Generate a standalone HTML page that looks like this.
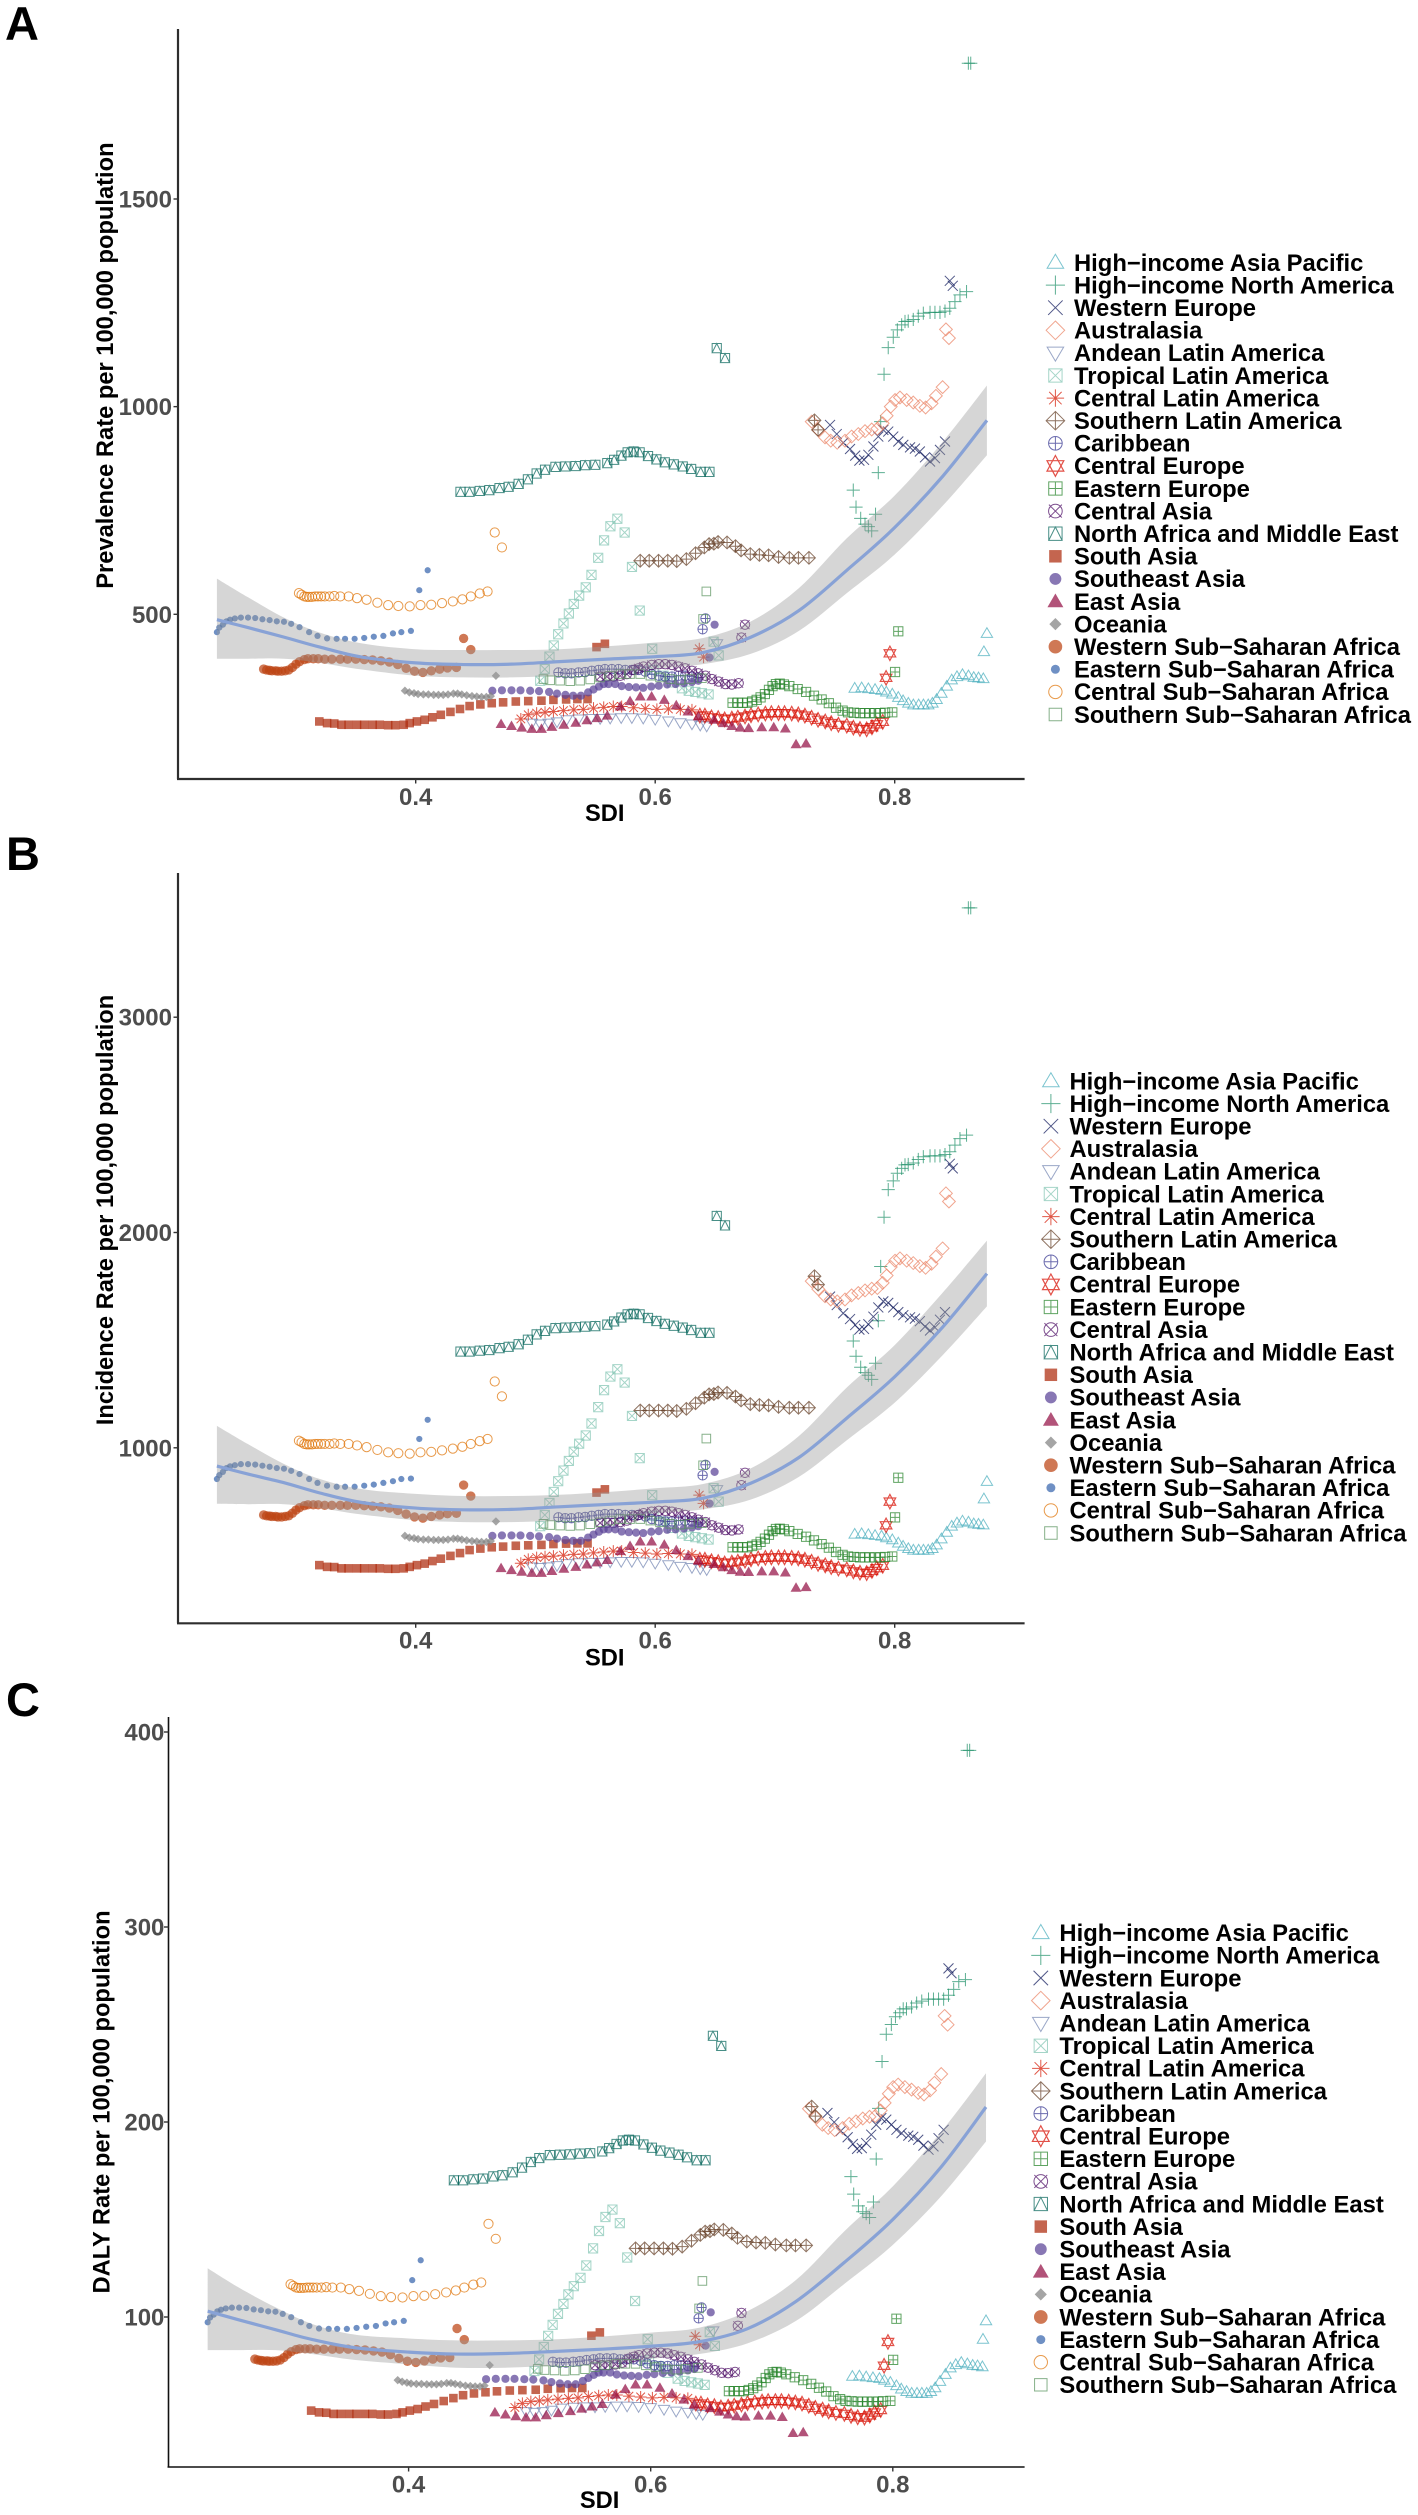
<!DOCTYPE html>
<html lang="en">
<head>
<meta charset="utf-8">
<title>SDI versus burden rates by GBD region</title>
<style>
html,body{margin:0;padding:0;background:#fff;}
svg{display:block;font-family:"Liberation Sans",Arial,sans-serif;}
.tick{font-size:24px;font-weight:700;fill:#4d4d4d;}
.title{font-size:23.7px;font-weight:700;fill:#000;}
.letter{font-size:47px;font-weight:700;fill:#000;}
.leg text{font-size:23.8px;font-weight:700;fill:#000;}
</style>
</head>
<body>
<svg id="figure" xmlns="http://www.w3.org/2000/svg" width="1418" height="2515" viewBox="0 0 1418 2515">
<rect x="0" y="0" width="1418" height="2515" fill="#fff"/>

<text class="letter" x="5" y="40">A</text>
<text class="letter" x="6" y="870">B</text>
<text class="letter" x="6" y="1716">C</text>

<text class="title" transform="translate(113,365.6) rotate(-90)" text-anchor="middle">Prevalence Rate per 100,000 population</text>
<text class="title" transform="translate(113,1210) rotate(-90)" text-anchor="middle">Incidence Rate per 100,000 population</text>
<text class="title" transform="translate(109.5,2102) rotate(-90)" text-anchor="middle">DALY Rate per 100,000 population</text>
<text class="title" x="604.7" y="821" text-anchor="middle">SDI</text>
<text class="title" x="604.7" y="1665.5" text-anchor="middle">SDI</text>
<text class="title" x="599.6" y="2508" text-anchor="middle">SDI</text>

<g id="plotA"></g>
<g id="plotB"></g>
<g id="plotC"></g>

<g id="legA" class="leg" transform="translate(1074,262.5)">
<text y="8.3">High−income Asia Pacific</text>
<text y="30.9">High−income North America</text>
<text y="53.5">Western Europe</text>
<text y="76.1">Australasia</text>
<text y="98.7">Andean Latin America</text>
<text y="121.3">Tropical Latin America</text>
<text y="143.9">Central Latin America</text>
<text y="166.5">Southern Latin America</text>
<text y="189.1">Caribbean</text>
<text y="211.7">Central Europe</text>
<text y="234.3">Eastern Europe</text>
<text y="256.9">Central Asia</text>
<text y="279.5">North Africa and Middle East</text>
<text y="302.1">South Asia</text>
<text y="324.7">Southeast Asia</text>
<text y="347.3">East Asia</text>
<text y="369.9">Oceania</text>
<text y="392.5">Western Sub−Saharan Africa</text>
<text y="415.1">Eastern Sub−Saharan Africa</text>
<text y="437.7">Central Sub−Saharan Africa</text>
<text y="460.3">Southern Sub−Saharan Africa</text>
</g>

<g id="legB" class="leg" transform="translate(1069.5,1081)">
<text y="8.3">High−income Asia Pacific</text>
<text y="30.9">High−income North America</text>
<text y="53.5">Western Europe</text>
<text y="76.1">Australasia</text>
<text y="98.7">Andean Latin America</text>
<text y="121.3">Tropical Latin America</text>
<text y="143.9">Central Latin America</text>
<text y="166.5">Southern Latin America</text>
<text y="189.1">Caribbean</text>
<text y="211.7">Central Europe</text>
<text y="234.3">Eastern Europe</text>
<text y="256.9">Central Asia</text>
<text y="279.5">North Africa and Middle East</text>
<text y="302.1">South Asia</text>
<text y="324.7">Southeast Asia</text>
<text y="347.3">East Asia</text>
<text y="369.9">Oceania</text>
<text y="392.5">Western Sub−Saharan Africa</text>
<text y="415.1">Eastern Sub−Saharan Africa</text>
<text y="437.7">Central Sub−Saharan Africa</text>
<text y="460.3">Southern Sub−Saharan Africa</text>
</g>

<g id="legC" class="leg" transform="translate(1059.4,1932.8)">
<text y="8.3">High−income Asia Pacific</text>
<text y="30.9">High−income North America</text>
<text y="53.5">Western Europe</text>
<text y="76.1">Australasia</text>
<text y="98.7">Andean Latin America</text>
<text y="121.3">Tropical Latin America</text>
<text y="143.9">Central Latin America</text>
<text y="166.5">Southern Latin America</text>
<text y="189.1">Caribbean</text>
<text y="211.7">Central Europe</text>
<text y="234.3">Eastern Europe</text>
<text y="256.9">Central Asia</text>
<text y="279.5">North Africa and Middle East</text>
<text y="302.1">South Asia</text>
<text y="324.7">Southeast Asia</text>
<text y="347.3">East Asia</text>
<text y="369.9">Oceania</text>
<text y="392.5">Western Sub−Saharan Africa</text>
<text y="415.1">Eastern Sub−Saharan Africa</text>
<text y="437.7">Central Sub−Saharan Africa</text>
<text y="460.3">Southern Sub−Saharan Africa</text>
</g>
</svg>

<script>
// ---------- tick labels ----------
const xTicks=[0.4,0.6,0.8];
const prevTicks=[500,1000,1500];
const incTicks=[1000,2000,3000];
const dalyTicks=[100,200,300,400];

// ---------- High-income Asia Pacific ----------
const sdiHiap=[.7666,.7724,.778,.7836,.789,.793,.798,.803,.807,.8114,.8156,.82,.824,.828,.8315,.835,.839,.8435,.8476,.852,.8566,.8616,.866,.87,.874,.8745,.877];
const prevHiap=[322,323,321,319,317,313,308,300,292,286,282,282,282,282,286,295,310,327,342,350,355,352,348,347,345,410,454];
const incHiap=[599,601,597,593,590,582,573,558,543,532,525,525,525,525,532,549,577,608,636,651,660,655,647,645,642,763,844];
const dalyHiap=[69.6,69.8,69.3,68.9,68.5,67.6,66.5,64.8,63.1,61.8,60.9,60.9,60.9,60.9,61.8,63.7,67,70.6,73.9,75.6,76.7,76,75.2,75,74.5,88.6,98.1];
// ---------- High-income North America ----------
const sdiHina=[.7808,.778,.7752,.7716,.7677,.7654,.784,.7863,.7883,.7911,.7946,.7988,.8022,.8058,.8086,.8113,.8155,.8197,.8239,.8295,.8336,.8378,.842,.846,.8503,.8545,.86,.8615,.8635];
const prevHina=[701,711,717,731,758,799,741,841,964,1078,1142,1167,1185,1197,1205,1206,1210,1218,1225,1227,1227,1227,1230,1237,1253,1269,1277,1827,1827];
const incHina=[1318,1337,1349,1374,1425,1496,1393,1590,1842,2071,2199,2240,2275,2298,2314,2316,2323,2339,2352,2356,2356,2356,2362,2375,2406,2436,2452,3508,3508];
const dalyHina=[151,153,154,157,163,172,159,181,207,231,245,250,254,256,258,258,259,261,262,263,263,263,263,265,268,272,273,390.6,390.6];
// ---------- Western Europe ----------
const sdiWeur=[.746,.7516,.757,.7627,.767,.7705,.7744,.778,.7822,.7863,.7905,.7946,.7988,.803,.8072,.8128,.8169,.821,.8253,.8295,.8336,.8378,.842,.846,.8485];
const prevWeur=[956,934,913,898,882,870,872,884,904,928,944,940,928,916,908,902,899,892,878,868,876,896,916,1303,1291];
const incWeur=[1702,1663,1625,1598,1570,1549,1552,1574,1609,1652,1680,1673,1652,1630,1616,1606,1600,1588,1563,1545,1559,1595,1630,2319,2298];
const dalyWeur=[204.6,199.9,195.4,192.2,188.7,186.2,186.6,189.2,193.5,198.6,202,201.2,198.6,196,194.3,193,192.4,190.9,187.9,185.8,187.5,191.7,196,278.8,276.3];
// ---------- Australasia ----------
const sdiAus=[.7307,.7362,.7418,.7466,.752,.7585,.764,.7696,.7752,.7808,.7855,.79,.7933,.7967,.8003,.8044,.81,.8155,.821,.8258,.8308,.8344,.84,.8428,.8453];
const prevAus=[964,944,926,918,913,918,928,934,941,945,947,960,978,1000,1016,1022,1016,1010,1002,998,1008,1026,1047,1186,1165];
const incAus=[1774,1737,1704,1689,1680,1689,1708,1719,1731,1739,1742,1766,1800,1840,1869,1880,1869,1858,1844,1836,1855,1888,1926,2182,2144];
const dalyAus=[206.8,202.5,198.6,196.9,195.8,196.9,199.1,200.3,201.8,202.7,203.1,205.9,209.8,214.5,217.9,219.2,217.9,216.6,214.9,214.1,216.2,220.1,224.6,254.4,249.9];
// ---------- Andean Latin America ----------
const sdiAndean=[.497,.504,.511,.518,.526,.536,.546,.554,.5624,.5716,.5805,.59,.6,.611,.621,.6307,.6376,.643,.6516];
const prevAndean=[238,236,238,241,246,248,249,249,250,251,251,250,247,243,239,236,233,231,429];
const incAndean=[447,444,447,453,462,466,468,468,470,472,472,470,464,457,449,444,438,434,806];
const dalyAndean=[51.5,51.1,51.5,52.2,53.3,53.7,53.9,53.9,54.1,54.3,54.3,54.1,53.5,52.6,51.7,51.1,50.4,50,92.9];
// ---------- Tropical Latin America ----------
const sdiTrop=[.504,.5078,.5117,.5153,.519,.5234,.5279,.532,.5365,.542,.5468,.5524,.5573,.5626,.5684,.5745,.5806,.5871,.5975,.5986,.607,.614,.6223,.628,.6335,.639,.6446,.6488,.653];
const prevTrop=[340,368,398,425,452,478,502,525,545,565,595,636,678,712,730,697,614,509,417,366,352,336,322,316,313,310,307,434,401];
const incTrop=[636,688,744,795,845,894,939,982,1019,1057,1113,1189,1268,1331,1365,1303,1148,952,780,684,658,628,602,591,585,580,574,812,750];
const dalyTrop=[72.3,78.2,84.6,90.3,96,101.6,106.7,111.6,115.8,120.1,126.4,135.2,144.1,151.3,155.1,148.1,130.5,108.2,88.6,77.8,74.8,71.4,68.4,67.2,66.5,65.9,65.2,92.2,85.2];
// ---------- Central Latin America ----------
const sdiClat=[.4878,.494,.501,.508,.515,.5234,.532,.54,.5485,.557,.565,.572,.582,.5917,.6014,.611,.621,.6307,.6368,.6404];
const prevClat=[248,258,262,264,266,268,270,271,274,276,278,278,275,273,271,272,271,270,417,397];
const incClat=[464,482,490,494,497,501,505,507,512,516,520,520,514,511,507,509,507,505,780,742];
const dalyClat=[53.6,55.7,56.6,57,57.5,57.9,58.3,58.5,59.2,59.6,60,60,59.4,59,58.5,58.8,58.5,58.3,90.1,85.8];
// ---------- Southern Latin America ----------
const sdiSlat=[.5875,.595,.6028,.6105,.618,.626,.6337,.641,.645,.649,.6525,.66,.667,.6717,.6794,.687,.6947,.703,.712,.7196,.7284,.733,.736];
const prevSlat=[629,629,629,629,628,633,647,661,669,670,674,673,664,654,645,643,642,638,636,636,636,967,944];
const incSlat=[1173,1173,1173,1173,1171,1181,1207,1233,1248,1250,1257,1255,1238,1220,1203,1199,1197,1190,1186,1186,1186,1797,1758];
const dalySlat=[135.2,135.2,135.2,135.2,135,136.1,139.1,142.1,143.8,144,144.9,144.7,142.8,140.6,138.7,138.2,138,137.2,136.7,136.7,136.7,207.9,203];
// ---------- Caribbean ----------
const sdiCarib=[.5192,.5248,.53,.536,.5415,.547,.5527,.558,.5638,.5694,.575,.5805,.586,.5917,.5972,.603,.6084,.614,.6195,.625,.6307,.636,.6396,.642];
const prevCarib=[360,358,358,360,361,364,366,368,368,368,366,366,366,362,356,352,350,350,352,352,350,348,464,490];
const incCarib=[677,673,673,677,679,684,688,692,692,692,688,688,688,681,669,662,658,658,662,662,658,654,872,921];
const dalyCarib=[77,76.6,76.6,77,77.3,77.9,78.3,78.8,78.8,78.8,78.3,78.3,78.3,77.5,76.2,75.3,74.9,74.9,75.3,75.3,74.9,74.5,99.3,104.9];
// ---------- Central Europe ----------
const sdiCeur=[.6373,.6415,.647,.6526,.658,.664,.669,.675,.68,.686,.692,.697,.703,.708,.714,.7195,.725,.7306,.736,.742,.747,.753,.76,.7655,.771,.7766,.781,.785,.79,.7928,.796];
const prevCeur=[256,256,252,250,247,249,251,254,257,259,261,262,262,262,261,259,256,251,246,242,238,234,232,227,224,223,228,235,241,347,406];
const incCeur=[480,480,473,469,463,467,471,476,482,486,489,491,491,491,489,486,480,471,461,454,446,439,435,426,420,418,428,441,452,640,750];
const dalyCeur=[55.6,55.6,54.7,54.3,53.6,54,54.5,55.1,55.8,56.2,56.6,56.9,56.9,56.9,56.6,56.2,55.6,54.5,53.4,52.5,51.6,50.8,50.3,49.3,48.6,48.4,49.5,51,52.3,75,87.2];
// ---------- Eastern Europe ----------
const sdiEeur=[.6646,.669,.673,.677,.681,.6847,.688,.6916,.695,.698,.7008,.704,.7075,.712,.719,.726,.7326,.739,.745,.751,.7565,.761,.766,.771,.775,.779,.7836,.788,.792,.798,.8003,.803];
const prevEeur=[287,287,287,287,290,294,300,308,318,327,332,333,331,327,320,313,304,295,286,275,268,264,263,262,262,262,262,262,263,264,361,459];
const incEeur=[538,538,538,538,544,551,563,578,596,613,623,624,621,613,600,587,570,553,536,516,503,495,493,491,491,491,491,491,493,495,677,861];
const dalyEeur=[62,62,62,62,62.6,63.5,64.8,66.5,68.7,70.6,71.7,71.9,71.5,70.6,69.1,67.6,65.7,63.7,61.8,59.4,57.9,57,56.8,56.6,56.6,56.6,56.6,56.6,56.8,57,78,99.1];
// ---------- Central Asia ----------
const sdiCasia=[.554,.5596,.5652,.5708,.5763,.582,.586,.5903,.597,.603,.6084,.614,.6195,.625,.6307,.636,.642,.6474,.653,.6585,.664,.6697,.672,.675];
const prevCasia=[350,350,350,352,356,366,370,374,378,380,380,378,374,370,364,358,352,344,338,332,331,334,444,475];
const incCasia=[651,651,651,655,662,681,688,696,703,707,707,703,696,688,677,666,655,640,629,618,616,621,826,884];
const dalyCasia=[75.3,75.3,75.3,75.7,76.5,78.7,79.6,80.4,81.3,81.7,81.7,81.3,80.4,79.6,78.3,77,75.7,74,72.7,71.4,71.2,71.8,95.5,102.1];
// ---------- North Africa and Middle East ----------
const sdiName=[.4374,.445,.4535,.4615,.47,.4776,.486,.4937,.501,.508,.5167,.525,.5335,.5415,.55,.56,.5657,.5718,.577,.582,.587,.594,.601,.608,.6155,.623,.63,.638,.6453,.6514,.6583];
const prevName=[795,795,797,799,804,807,814,825,839,848,855,856,857,859,860,864,872,882,890,892,890,881,873,866,861,856,850,843,843,1141,1117];
const incName=[1447,1447,1451,1454,1463,1469,1481,1502,1527,1543,1556,1558,1560,1563,1565,1572,1587,1605,1620,1623,1620,1603,1589,1576,1567,1558,1547,1534,1534,2077,2033];
const dalyName=[170.1,170.1,170.6,171,172.1,172.7,174.2,176.6,179.5,181.5,183,183.2,183.4,183.8,184,184.9,186.6,188.7,190.5,190.9,190.5,188.5,186.8,185.3,184.3,183.2,181.9,180.4,180.4,244.2,239];
// ---------- South Asia ----------
const sdiSasia=[.3195,.326,.332,.338,.344,.351,.357,.364,.37,.377,.383,.39,.395,.401,.4075,.414,.421,.429,.437,.445,.454,.4635,.473,.4836,.494,.505,.515,.5256,.535,.5435,.551,.558];
const prevSasia=[242,238,237,234,234,234,234,234,234,233,233,234,238,242,246,252,258,265,272,279,283,286,288,290,291,292,294,295,296,296,421,429];
const incSasia=[455,447,446,440,440,440,440,440,440,438,438,440,447,455,462,474,485,498,511,525,532,538,541,545,547,549,553,555,556,556,792,807];
const dalySasia=[52,51.1,50.9,50.3,50.3,50.3,50.3,50.3,50.3,50,50,50.3,51.1,52,52.8,54.1,55.4,56.9,58.4,59.9,60.8,61.4,61.9,62.3,62.5,62.7,63.2,63.4,63.6,63.6,90.4,92.1];
// ---------- Southeast Asia ----------
const sdiSeasia=[.464,.472,.48,.4875,.4956,.503,.5114,.518,.525,.5315,.538,.544,.5485,.553,.557,.561,.5666,.572,.578,.584,.59,.5967,.603,.61,.617,.624,.6307,.636,.6454,.6496];
const prevSeasia=[316,317,317,317,316,315,313,309,306,304,304,312,319,326,332,332,332,327,325,324,323,326,328,331,332,334,337,340,396,475];
const incSeasia=[591,593,593,593,591,589,585,578,572,568,568,583,597,610,621,621,621,611,608,606,604,610,613,619,621,625,630,636,741,888];
const dalySeasia=[68.1,68.3,68.3,68.3,68.1,67.9,67.5,66.6,65.9,65.5,65.5,67.2,68.7,70.3,71.5,71.5,71.5,70.5,70,69.8,69.6,70.3,70.7,71.3,71.5,72,72.6,73.3,85.3,102.4];
// ---------- East Asia ----------
const sdiEasia=[.4713,.48,.4886,.497,.505,.5137,.5237,.5337,.543,.5516,.56,.5708,.579,.5875,.597,.6076,.6176,.6274,.636,.649,.657,.664,.671,.678,.689,.699,.7087,.7176,.726];
const prevEasia=[236,231,227,224,224,229,234,239,245,250,256,278,291,302,302,294,281,266,254,246,238,231,227,226,228,228,225,187,189];
const incEasia=[441,432,424,419,419,428,438,447,458,468,479,520,544,565,565,550,525,497,475,460,445,432,424,423,426,426,421,350,353];
const dalyEasia=[51.1,50,49.1,48.5,48.5,49.6,50.7,51.7,53,54.1,55.4,60.2,63,65.4,65.4,63.7,60.8,57.6,55,53.3,51.5,50,49.1,48.9,49.4,49.4,48.7,40.5,40.9];
// ---------- Oceania ----------
const sdiOcean=[.391,.3947,.3986,.402,.4064,.4106,.415,.419,.423,.427,.4315,.435,.4385,.4426,.447,.451,.455,.459,.4627,.467];
const prevOcean=[316,312,310,308,307,307,306,306,306,307,309,309,307,305,303,302,301,301,303,352];
const incOcean=[591,583,580,576,574,574,572,572,572,574,578,578,574,570,567,565,563,563,567,658];
const dalyOcean=[67.6,66.8,66.3,65.9,65.7,65.7,65.5,65.5,65.5,65.7,66.1,66.1,65.7,65.3,64.8,64.6,64.4,64.4,64.8,75.3];
// ---------- Western Sub-Saharan Africa ----------
const sdiWssa=[.273,.2755,.278,.28,.283,.285,.288,.291,.294,.297,.3,.303,.307,.31,.3145,.3186,.324,.33,.337,.343,.35,.357,.364,.371,.378,.385,.392,.399,.406,.413,.42,.4265,.434,.44,.446];
const prevWssa=[368,366,365,364,364,363,363,364,366,372,380,386,391,393,393,393,392,392,392,392,392,391,390,388,385,379,370,363,360,364,368,371,372,442,415];
const incWssa=[688,684,683,681,681,679,679,681,684,696,711,722,731,735,735,735,733,733,733,733,733,731,729,726,720,709,692,679,673,681,688,694,696,827,776];
const dalyWssa=[78.4,78,77.7,77.5,77.5,77.3,77.3,77.5,78,79.2,80.9,82.2,83.3,83.7,83.7,83.7,83.5,83.5,83.5,83.5,83.5,83.3,83.1,82.6,82,80.7,78.8,77.3,76.7,77.5,78.4,79,79.2,94.1,88.4];
// ---------- Eastern Sub-Saharan Africa ----------
const sdiEssa=[.234,.236,.239,.242,.245,.249,.254,.26,.266,.272,.278,.284,.29,.296,.303,.311,.318,.326,.334,.341,.349,.357,.365,.373,.381,.388,.396,.403,.41];
const prevEssa=[457,468,475,483,487,490,492,492,491,488,486,483,482,477,469,457,448,442,441,441,441,443,446,448,454,457,460,558,606];
const incEssa=[855,873,888,906,914,919,924,924,922,917,912,906,903,893,878,855,837,824,819,819,819,824,829,837,845,855,857,1041,1130];
const dalyEssa=[97.3,99.7,101.2,102.9,103.7,104.4,104.8,104.8,104.6,103.9,103.5,102.9,102.7,101.6,99.9,97.3,95.4,94.1,93.9,93.9,93.9,94.4,95,95.4,96.7,97.3,98,118.9,129.1];
// ---------- Central Sub-Saharan Africa ----------
const sdiCssa=[.3025,.3047,.307,.309,.311,.3134,.316,.3184,.321,.324,.328,.332,.337,.344,.351,.359,.368,.377,.3855,.395,.404,.413,.422,.431,.439,.446,.4535,.46,.466,.472];
const prevCssa=[551,547,543,542,542,542,543,543,543,543,543,544,543,543,539,535,528,522,520,519,522,523,527,531,536,543,550,555,697,661];
const incCssa=[1033,1026,1018,1016,1016,1016,1018,1018,1018,1018,1018,1020,1018,1018,1011,1003,990,979,975,973,979,981,988,996,1005,1018,1031,1041,1308,1239];
const dalyCssa=[116.8,116,115.1,114.9,114.9,114.9,115.1,115.1,115.1,115.1,115.1,115.3,115.1,115.1,114.3,113.4,111.9,110.7,110.2,110,110.7,110.9,111.7,112.6,113.6,115.1,116.6,117.7,147.8,140.1];
// ---------- Southern Sub-Saharan Africa ----------
const sdiSssa=[.5067,.5123,.5206,.529,.5373,.5457,.554,.5624,.5708,.579,.5875,.596,.604,.6126,.621,.629,.639,.64,.6427];
const prevSssa=[344,341,340,339,340,343,348,352,356,356,356,352,348,344,342,344,346,489,555];
const incSssa=[647,641,639,637,639,645,654,662,669,669,669,662,654,647,643,647,650,919,1043];
const dalySssa=[73.4,72.8,72.6,72.4,72.6,73.2,74.3,75.2,76,76,76,75.2,74.3,73.4,73,73.4,73.9,104.4,118.5];

// ---------- smoothed trend and confidence band ----------
const trendSdi=[.234,.26,.29,.32,.355,.4,.44,.48,.52,.56,.6,.64,.68,.72,.76,.8,.84,.877];
const trendPrev=[487,468,445,421,397,383,379,380,386,392,398,408,445,509,606,709,832,967];
const upperPrev=[586,541,492,456,430,416,414,414,416,423,432,443,483,563,683,786,915,1051];
const lowerPrev=[393,393,393,383,367,352,348,348,352,358,369,380,405,460,551,644,761,883];
const trendInc=[915,878,838,790,746,720,712,714,726,737,748,766,836,955,1138,1330,1560,1809];
const upperInc=[1102,1017,925,855,808,786,776,776,782,795,812,832,905,1055,1280,1477,1720,1962];
const lowerInc=[740,738,738,720,690,664,655,655,662,672,695,714,760,865,1035,1210,1430,1657];
const trendDaly=[103,98.5,93.5,88.5,84.3,82,81,81.3,82.3,83.5,85,87.3,94,108,128,150,177,207.7];
const upperDaly=[125,115,105,96.5,91,89,88,88,88.5,90,92,94.5,103,119,144,167,195,225];
const lowerDaly=[83,83,83,81,78,75.7,74,74,75,76,78.5,81,86.5,98,117,137,162,190];

// ---------- series registry (names, glyphs, colours) ----------
const seriesList=[
{key:'high-income-asia-pacific',shape:'triUp',color:'#48ADBC',sdi:sdiHiap,prev:prevHiap,inc:incHiap,daly:dalyHiap},
{key:'high-income-north-america',shape:'plus',color:'#1E9068',sdi:sdiHina,prev:prevHina,inc:incHina,daly:dalyHina},
{key:'western-europe',shape:'cross',color:'#0A1358',sdi:sdiWeur,prev:prevWeur,inc:incWeur,daly:dalyWeur},
{key:'australasia',shape:'diamond',color:'#EA8264',sdi:sdiAus,prev:prevAus,inc:incAus,daly:dalyAus},
{key:'andean-latin-america',shape:'triDown',color:'#7385B1',sdi:sdiAndean,prev:prevAndean,inc:incAndean,daly:dalyAndean},
{key:'tropical-latin-america',shape:'squareCross',color:'#82C5B3',sdi:sdiTrop,prev:prevTrop,inc:incTrop,daly:dalyTrop},
{key:'central-latin-america',shape:'star',color:'#D41600',sdi:sdiClat,prev:prevClat,inc:incClat,daly:dalyClat},
{key:'southern-latin-america',shape:'diamondPlus',color:'#633B22',sdi:sdiSlat,prev:prevSlat,inc:incSlat,daly:dalySlat},
{key:'caribbean',shape:'circlePlus',color:'#32328F',sdi:sdiCarib,prev:prevCarib,inc:incCarib,daly:dalyCarib},
{key:'central-europe',shape:'david',color:'#D70D00',sdi:sdiCeur,prev:prevCeur,inc:incCeur,daly:dalyCeur},
{key:'eastern-europe',shape:'squarePlus',color:'#218126',sdi:sdiEeur,prev:prevEeur,inc:incEeur,daly:dalyEeur},
{key:'central-asia',shape:'circleCross',color:'#4A0963',sdi:sdiCasia,prev:prevCasia,inc:incCasia,daly:dalyCasia},
{key:'north-africa-and-middle-east',shape:'squareTri',color:'#006257',sdi:sdiName,prev:prevName,inc:incName,daly:dalyName},
{key:'south-asia',shape:'fSquare',color:'#AD290B',sdi:sdiSasia,prev:prevSasia,inc:incSasia,daly:dalySasia},
{key:'southeast-asia',shape:'fCircleM',color:'#5A4397',sdi:sdiSeasia,prev:prevSeasia,inc:incSeasia,daly:dalySeasia},
{key:'east-asia',shape:'fTri',color:'#941145',sdi:sdiEasia,prev:prevEasia,inc:incEasia,daly:dalyEasia},
{key:'oceania',shape:'fDiamond',color:'#828282',sdi:sdiOcean,prev:prevOcean,inc:incOcean,daly:dalyOcean},
{key:'western-sub-saharan-africa',shape:'fCircleL',color:'#BC4413',sdi:sdiWssa,prev:prevWssa,inc:incWssa,daly:dalyWssa},
{key:'eastern-sub-saharan-africa',shape:'fCircleS',color:'#3765AD',sdi:sdiEssa,prev:prevEssa,inc:incEssa,daly:dalyEssa},
{key:'central-sub-saharan-africa',shape:'oCircle',color:'#DF7305',sdi:sdiCssa,prev:prevCssa,inc:incCssa,daly:dalyCssa},
{key:'southern-sub-saharan-africa',shape:'oSquare',color:'#57915C',sdi:sdiSssa,prev:prevSssa,inc:incSssa,daly:dalySssa}
];

// ---------- glyph geometry ----------
const NS='http://www.w3.org/2000/svg';
function n(v){return v.toFixed(2);}
function L(a,b,c,d){return 'M'+n(a)+','+n(b)+'L'+n(c)+','+n(d);}
function circ(r){return 'M'+n(-r)+',0A'+n(r)+','+n(r)+' 0 1 1 '+n(r)+',0A'+n(r)+','+n(r)+' 0 1 1 '+n(-r)+',0Z';}
function poly(p){return 'M'+p.map(function(q){return n(q[0])+','+n(q[1]);}).join('L')+'Z';}
function sq(h){return poly([[-h,-h],[h,-h],[h,h],[-h,h]]);}
// Catmull-Rom curve through a list of points, as cubic segments
function curve(p){
  var d='';
  for(var i=0;i<p.length-1;i++){
    var a=p[Math.max(i-1,0)],b=p[i],c=p[i+1],e=p[Math.min(i+2,p.length-1)];
    d+='C'+n(b[0]+(c[0]-a[0])/6)+','+n(b[1]+(c[1]-a[1])/6)+' '+n(c[0]-(e[0]-b[0])/6)+','+n(c[1]-(e[1]-b[1])/6)+' '+n(c[0])+','+n(c[1]);
  }
  return d;
}
const filledShapes={fSquare:1,fCircleM:1,fTri:1,fDiamond:1,fCircleL:1,fCircleS:1};
function glyph(shape,s){
  var h=4.6*s,r=4.7*s;
  switch(shape){
    case 'triUp':return poly([[-5.7*s,4*s],[5.7*s,4*s],[0,-5.7*s]]);
    case 'triDown':return poly([[-5.7*s,-4*s],[5.7*s,-4*s],[0,5.7*s]]);
    case 'plus':return L(-6.6*s,0,6.6*s,0)+L(0,-6.6*s,0,6.6*s);
    case 'cross':return L(-5*s,-5*s,5*s,5*s)+L(-5*s,5*s,5*s,-5*s);
    case 'diamond':return poly([[0,-6.4*s],[6.4*s,0],[0,6.4*s],[-6.4*s,0]]);
    case 'squareCross':return sq(h)+L(-h,-h,h,h)+L(-h,h,h,-h);
    case 'star':return L(-6*s,0,6*s,0)+L(0,-6*s,0,6*s)+L(-4.3*s,-4.3*s,4.3*s,4.3*s)+L(-4.3*s,4.3*s,4.3*s,-4.3*s);
    case 'diamondPlus':return poly([[0,-6.4*s],[6.4*s,0],[0,6.4*s],[-6.4*s,0]])+L(-6.4*s,0,6.4*s,0)+L(0,-6.4*s,0,6.4*s);
    case 'circlePlus':return circ(r)+L(-r,0,r,0)+L(0,-r,0,r);
    case 'david':return poly([[-5.8*s,3.6*s],[5.8*s,3.6*s],[0,-7.2*s]])+poly([[-5.8*s,-3.6*s],[5.8*s,-3.6*s],[0,7.2*s]]);
    case 'squarePlus':return sq(h)+L(-h,0,h,0)+L(0,-h,0,h);
    case 'circleCross':return circ(r)+L(-r*.95,-r*.95,r*.95,r*.95)+L(-r*.95,r*.95,r*.95,-r*.95);
    case 'squareTri':return sq(h)+poly([[-h,h],[h,h],[0,-h]]);
    case 'fSquare':return sq(4.3*s);
    case 'fCircleM':return circ(4.1*s);
    case 'fTri':return poly([[-5.5*s,4*s],[5.5*s,4*s],[0,-5.5*s]]);
    case 'fDiamond':return poly([[0,-4.2*s],[4.2*s,0],[0,4.2*s],[-4.2*s,0]]);
    case 'fCircleL':return circ(4.7*s);
    case 'fCircleS':return circ(3.1*s);
    case 'oCircle':return circ(4.6*s);
    case 'oSquare':return sq(4.3*s);
  }
}
function paintGlyph(el,shape,color){
  el.setAttribute('opacity','0.72');
  if(filledShapes[shape]){
    el.setAttribute('fill',color);
    el.setAttribute('stroke','none');
  }else{
    el.setAttribute('fill','none');
    el.setAttribute('stroke',color);
    el.setAttribute('stroke-width',shape==='david'?'1.2':'1');
  }
}

// ---------- panels and axis functions ----------
const panels=[
{id:'plotA',legend:'legA',metric:'prev',trend:trendPrev,upper:upperPrev,lower:lowerPrev,ticks:prevTicks,
 axisX:178,axisTop:29,axisBottom:779,axisRight:1024.6,axisWidth:2.2,axisColor:'#2e2e2e',tickY:805,labelX:172,
 xAxis:function(s){return 415.7+(s-0.4)*1197.5;},yAxis:function(v){return 614.3-(v-500)*0.4153;}},
{id:'plotB',legend:'legB',metric:'inc',trend:trendInc,upper:upperInc,lower:lowerInc,ticks:incTicks,
 axisX:178,axisTop:873,axisBottom:1623.3,axisRight:1024.6,axisWidth:2.2,axisColor:'#2e2e2e',tickY:1648.5,labelX:172,
 xAxis:function(s){return 415.7+(s-0.4)*1197.5;},yAxis:function(v){return 1447.8-(v-1000)*0.2153;}},
{id:'plotC',legend:'legC',metric:'daly',trend:trendDaly,upper:upperDaly,lower:lowerDaly,ticks:dalyTicks,
 axisX:168.5,axisTop:1717,axisBottom:2467,axisRight:1024.6,axisWidth:1.6,axisColor:'#111',tickY:2492.5,labelX:164.4,
 xAxis:function(s){return 408.6+(s-0.4)*1210.5;},yAxis:function(v){return 2317-(v-100)*1.95;}}
];

panels.forEach(function(p){
  var root=document.getElementById(p.id);

  // point series
  seriesList.forEach(function(ser){
    var g=document.createElementNS(NS,'g');
    
    
    var vals=ser[p.metric];
    var d=glyph(ser.shape,1);
    for(var i=0;i<vals.length;i++){
      var el=document.createElementNS(NS,'path');
      
      
      el.setAttribute('d',d);
      el.setAttribute('transform','translate('+n(p.xAxis(ser.sdi[i]))+','+n(p.yAxis(vals[i]))+')');
      paintGlyph(el,ser.shape,ser.color);
      g.appendChild(el);
    }
    root.appendChild(g);
  });

  // confidence band, drawn over the points
  var band=document.createElementNS(NS,'path');
  
  
  var up=[],lo=[];
  for(var i=0;i<trendSdi.length;i++){up.push([p.xAxis(trendSdi[i]),p.yAxis(p.upper[i])]);}
  for(var j=trendSdi.length-1;j>=0;j--){lo.push([p.xAxis(trendSdi[j]),p.yAxis(p.lower[j])]);}
  band.setAttribute('d','M'+n(up[0][0])+','+n(up[0][1])+curve(up)+'L'+n(lo[0][0])+','+n(lo[0][1])+curve(lo)+'Z');
  band.setAttribute('fill','#999999');
  band.setAttribute('fill-opacity','0.4');
  root.appendChild(band);

  // trend line
  var line=document.createElementNS(NS,'path');
  
  
  var tp=[];
  for(var k=0;k<trendSdi.length;k++){tp.push([p.xAxis(trendSdi[k]),p.yAxis(p.trend[k])]);}
  line.setAttribute('d','M'+n(tp[0][0])+','+n(tp[0][1])+curve(tp));
  line.setAttribute('fill','none');
  line.setAttribute('stroke','#88A2D6');
  line.setAttribute('stroke-width','3.2');
  line.setAttribute('stroke-linejoin','round');
  root.appendChild(line);

  // axis lines
  var yLine=document.createElementNS(NS,'path');
  
  
  yLine.setAttribute('d',L(p.axisX,p.axisTop,p.axisX,p.axisBottom));
  yLine.setAttribute('stroke',p.axisColor);
  yLine.setAttribute('stroke-width',p.axisWidth);
  root.appendChild(yLine);
  var xLine=document.createElementNS(NS,'path');
  
  
  xLine.setAttribute('d',L(p.axisX-1,p.axisBottom,p.axisRight,p.axisBottom));
  xLine.setAttribute('stroke',p.axisColor);
  xLine.setAttribute('stroke-width',p.axisWidth);
  root.appendChild(xLine);

  // x ticks
  xTicks.forEach(function(t){
    var px=p.xAxis(t);
    var tk=document.createElementNS(NS,'path');
    
    
    tk.setAttribute('d',L(px,p.axisBottom,px,p.axisBottom+4.5));
    tk.setAttribute('stroke','#333');
    tk.setAttribute('stroke-width','1.4');
    root.appendChild(tk);
    var lb=document.createElementNS(NS,'text');
    
    
    lb.setAttribute('class','tick');
    lb.setAttribute('x',n(px));
    lb.setAttribute('y',p.tickY);
    lb.setAttribute('text-anchor','middle');
    lb.textContent=t.toFixed(1);
    root.appendChild(lb);
  });

  // y ticks
  p.ticks.forEach(function(t){
    var py=p.yAxis(t);
    var tk=document.createElementNS(NS,'path');
    
    
    tk.setAttribute('d',L(p.axisX-4.5,py,p.axisX,py));
    tk.setAttribute('stroke','#333');
    tk.setAttribute('stroke-width','1.4');
    root.appendChild(tk);
    var lb=document.createElementNS(NS,'text');
    
    
    lb.setAttribute('class','tick');
    lb.setAttribute('x',p.labelX);
    lb.setAttribute('y',n(py+8.5));
    lb.setAttribute('text-anchor','end');
    lb.textContent=String(t);
    root.appendChild(lb);
  });

  // legend keys
  var leg=document.getElementById(p.legend);
  seriesList.forEach(function(ser,i){
    var key=document.createElementNS(NS,'path');
    
    
    key.setAttribute('d',glyph(ser.shape,1.45));
    key.setAttribute('transform','translate(-18.6,'+n(i*22.6)+')');
    paintGlyph(key,ser.shape,ser.color);
    leg.appendChild(key);
  });
});
</script>
</body>
</html>
